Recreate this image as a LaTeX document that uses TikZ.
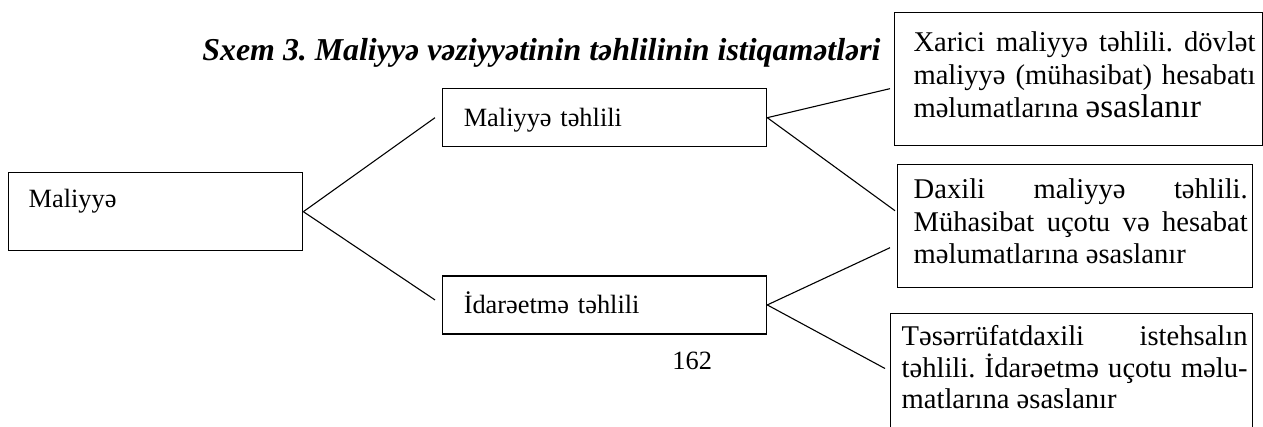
\documentclass[tikz,border=0pt]{standalone}
\usepackage{fontspec}
\setmainfont{Liberation Serif}
\usepackage{tikz}
\usetikzlibrary{positioning, calc}

\frenchspacing
\newcommand{\jline}[2]{\hbox to #1{#2}}

\begin{document}
\begin{tikzpicture}[x=0.455pt, y=-0.455pt, node distance=58.2pt,
    every node/.style={font=\fontsize{12}{14.5}\selectfont},
    box/.style={draw, line width=0.6pt, anchor=north west},
    notebox/.style={box, inner sep=0pt, font=\fontsize{13}{15}\selectfont},
    link/.style={line width=0.5pt}]
        \clip (0,0) rectangle (1263,426);

        \node[font=\fontsize{14.5}{17}\selectfont\bfseries\itshape, anchor=base west, inner sep=0pt] (title) at (202,60)
            {Sxem 3. Maliyyə vəziyyətinin təhlilinin istiqamətləri};

        \node[box, align=left, inner ysep=0pt, inner xsep=9.1pt, text width=115.6pt, text height=15.9pt, text depth=19.6pt] (maliyye) at (8,172) {Maliyyə};
        \node[box, align=left, inner ysep=0pt, inner xsep=9.6pt, text width=128.2pt, text height=17.3pt, text depth=9.1pt] (mtehlil) at (442,88) {Maliyyə təhlili};
        \node[box, align=left, anchor=north, inner ysep=0pt, inner xsep=9.6pt, text width=128.2pt, text height=17.3pt, text depth=9.1pt] (itehlil) [below=of mtehlil] {İdarəetmə təhlili};

        \node[notebox, text height=17.7pt, text depth=42.8pt] (xarici) at (894,12)
            {\kern8.6pt\vtop{\baselineskip=15pt
             \jline{155.6pt}{Xarici maliyyə təhlili. dövlət}
             \jline{155.6pt}{maliyyə (mühasibat) hesabatı}
             \hbox{məlumatlarına {\fontsize{15}{15}\selectfont əsaslanır}}}\kern3.2pt};
        \node[notebox, text height=15.5pt, text depth=40.5pt] (daxili) at (897,164)
            {\kern7.3pt\vtop{\baselineskip=14.8pt
             \jline{152pt}{Daxili maliyyə təhlili.}
             \jline{152pt}{Mühasibat uçotu və hesabat}
             \hbox{məlumatlarına əsaslanır}}\kern2.2pt};
        \node[notebox, text height=14.6pt, text depth=44.4pt] (teserrufat) at (890,313)
            {\kern5pt\vtop{\baselineskip=14.3pt
             \jline{157.4pt}{Təsərrüfatdaxili istehsalın}
             \jline{157.4pt}{təhlili. İdarəetmə uçotu məlu-}
             \hbox{matlarına əsaslanır}}\kern2.3pt};

        \node[anchor=base west, inner sep=0pt] (page) at (672,369) {162};

        \path[link]
            (maliyye.east) edge ($(mtehlil.west)+(-7,0)$)
            (maliyye.east) edge ($(itehlil.west)+(-7,-5)$)
            (mtehlil.east) edge ($(xarici.west)+(-4,9.5)$)
            (mtehlil.east) edge ($(daxili.west)+(-2,-15.5)$)
            (itehlil.east) edge ($(daxili.west)+(-7,21.5)$)
            (itehlil.east) edge ($(teserrufat.west)+(-5,-10)$);
    \end{tikzpicture}
\end{document}
